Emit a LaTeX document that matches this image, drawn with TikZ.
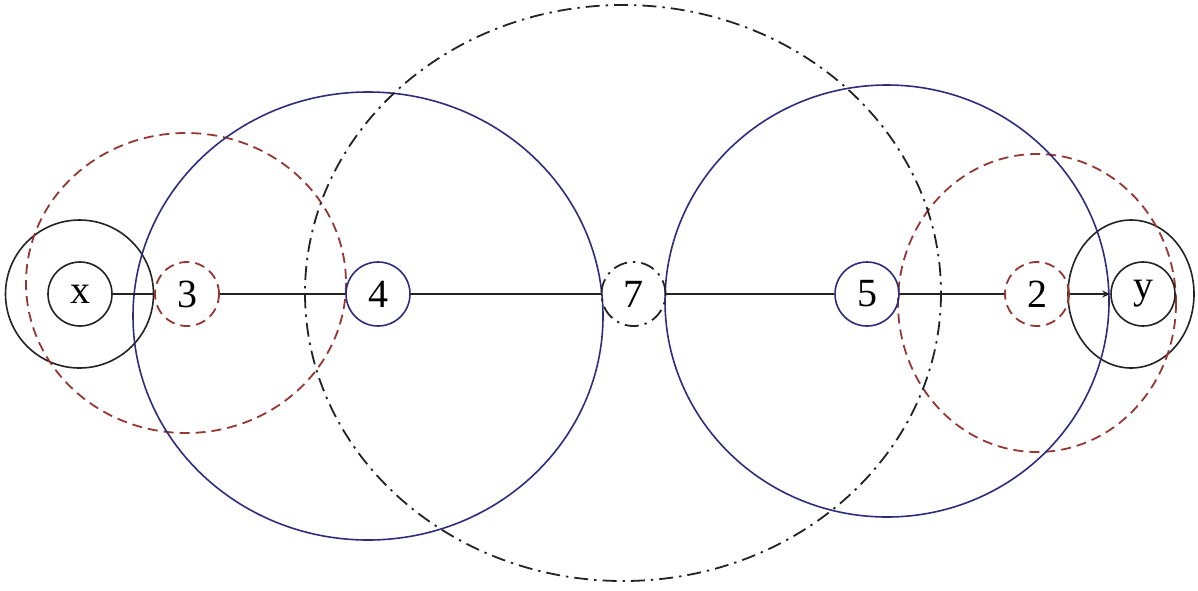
\documentclass[tikz,border=0pt]{standalone}
\usepackage{fontspec}
\setmainfont{Liberation Serif}
\usetikzlibrary{arrows.meta}
\definecolor{navy}{RGB}{45,45,125}
\definecolor{brick}{RGB}{150,55,50}
\definecolor{ink}{RGB}{35,35,35}
\begin{document}
\begin{tikzpicture}[x=0.5pt,y=-0.5pt,
  lab/.style={circle,minimum size=32pt,inner sep=0pt,font=\fontsize{20}{20}\selectfont},
  blk/.style={draw=ink,line width=0.8pt},
  blu/.style={draw=navy,line width=0.8pt},
  rdash/.style={draw=brick,line width=0.9pt,dash pattern=on 5pt off 3pt},
  ddot/.style={draw=ink,line width=0.9pt,dash pattern=on 7pt off 3pt on 1.2pt off 3pt},
  link/.style={draw=ink,line width=0.7pt}]
\useasboundingbox (0,0) rectangle (1198,590);
% big rings
\draw[blk] (79.5,294) circle [radius=74];
\draw[blk] (1131,294) ellipse [x radius=63, y radius=74];
\draw[rdash] (186,283) ellipse [x radius=160, y radius=150];
\draw[rdash] (1037,303) ellipse [x radius=139, y radius=149];
\draw[blu] (368,316) ellipse [x radius=235, y radius=224];
\draw[blu] (887,301) ellipse [x radius=222, y radius=216];
\draw[ddot] (623,293) ellipse [x radius=318, y radius=288];
% nodes
\node[lab,blk] (x) at (80,294) {x};
\node[lab,rdash] (n3) at (187,294) {3};
\node[lab,blu] (n4) at (378,294) {4};
\node[lab,ddot] (n7) at (633.5,294) {7};
\node[lab,blu] (n5) at (867,294) {5};
\node[lab,rdash] (n2) at (1037,294) {2};
\node[lab,blk] (y) at (1143,294) {y};
% links
\draw[link] (x) -- (n3);
\draw[link] (n3) -- (n4);
\draw[link] (n4) -- (n7);
\draw[link] (n7) -- (n5);
\draw[link] (n5) -- (n2);
\draw[link,-{Stealth[length=4pt,width=3.5pt]}] (n2) -- (y);
\end{tikzpicture}
\end{document}
